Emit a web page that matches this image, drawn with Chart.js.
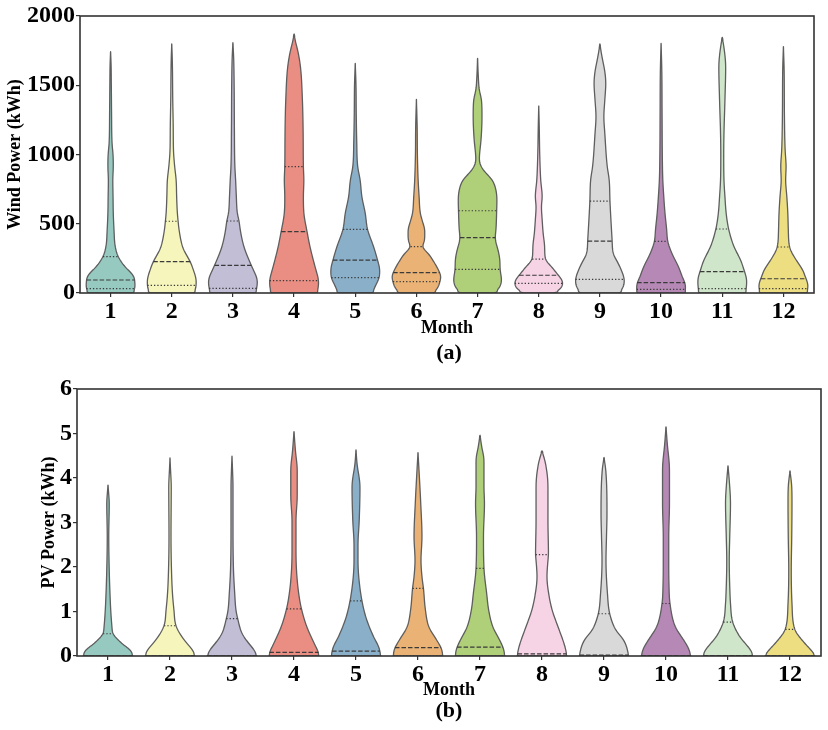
<!DOCTYPE html>
<html>
<head>
<meta charset="utf-8">
<script src="https://cdn.jsdelivr.net/npm/chart.js@4.4.1/dist/chart.umd.min.js"></script>
<style>
  html, body { margin: 0; padding: 0; background: #fff; }
  #page { position: relative; width: 828px; height: 730px; overflow: hidden; }
  canvas { position: absolute; left: 0; }
  .caption {
    position: absolute; left: 349px; width: 200px; height: 24px; line-height: 24px;
    text-align: center; font: bold 22px 'Liberation Serif', 'Times New Roman', serif; color: #000;
  }
</style>
</head>
<body>
<div id="page">
  <canvas id="windChart" width="828" height="340" style="top:0"></canvas>
  <div class="caption" style="top:339px">(a)</div>
  <canvas id="pvChart" width="828" height="336" style="top:365px"></canvas>
  <div class="caption" style="top:697px">(b)</div>
</div>
<script>
// --- data ---
const months = ['1', '2', '3', '4', '5', '6', '7', '8', '9', '10', '11', '12'];

// seaborn Set3, desaturated
const monthColors = ['#96cac1', '#f6f6bc', '#c1bed6', '#ea8e83', '#8aafc9', '#eab375',
                     '#afcf78', '#f6d3e5', '#d9d9d9', '#b588b6', '#cfe6ca', '#eddf81'];

// (a) wind power
const windTicks = [0, 500, 1000, 1500, 2000];
const windMax = [1742, 1798, 1807, 1870, 1658, 1398, 1694, 1350, 1798, 1803, 1846, 1779];
const windQ1 = [31, 55, 34, 89, 111, 82, 171, 70, 99, 26, 31, 31];
const windMedian = [94, 226, 200, 443, 238, 147, 400, 128, 375, 75, 154, 103];
const windQ3 = [262, 518, 520, 912, 460, 335, 594, 245, 664, 373, 462, 332];
// [value, relative half width] pairs, bottom to top
const windProfiles = [
  [[0, .9], [22, .98], [60, 1], [94, .98], [130, .93], [166, .71], [214, .48], [262, .31], [334, .19], [455, .14], [575, .11], [695, .1], [816, .09], [912, .11], [1000, .1], [1080, .06], [1300, .04], [1500, .03], [1650, .02]],
  [[0, .9], [30, .98], [94, 1], [142, .93], [235, .73], [290, .55], [334, .44], [455, .3], [518, .26], [575, .23], [695, .2], [816, .18], [912, .12], [1032, .07], [1200, .06], [1400, .04], [1600, .03], [1700, .02]],
  [[0, .92], [40, .98], [94, 1], [130, .93], [200, .75], [334, .45], [455, .3], [520, .25], [575, .18], [695, .14], [816, .11], [912, .08], [1200, .06], [1500, .05], [1700, .03]],
  [[0, .93], [40, .99], [94, 1], [130, .95], [214, .82], [334, .65], [443, .53], [575, .4], [695, .38], [816, .4], [912, .38], [1153, .37], [1393, .34], [1634, .26], [1750, .15], [1820, .05]],
  [[0, .7], [58, .84], [111, .98], [166, 1], [238, .91], [334, .75], [460, .5], [575, .41], [695, .27], [816, .2], [912, .1], [1100, .06], [1300, .04], [1500, .03]],
  [[0, .7], [40, .88], [82, .96], [118, 1], [147, .95], [214, .75], [286, .48], [335, .24], [360, .3], [400, .34], [455, .34], [503, .27], [575, .16], [695, .11], [816, .07], [1000, .04], [1200, .03]],
  [[0, .7], [40, .9], [94, .98], [171, .92], [238, .91], [300, .85], [400, .72], [455, .75], [594, .78], [671, .79], [744, .75], [816, .6], [864, .35], [910, .15], [960, .07], [1000, .08], [1105, .14], [1273, .18], [1393, .16], [1466, .07], [1560, .03]],
  [[0, .61], [22, .84], [70, .98], [94, .95], [128, .8], [190, .52], [245, .27], [334, .24], [431, .18], [527, .14], [623, .11], [695, .14], [816, .08], [1000, .04], [1200, .02]],
  [[0, .79], [40, .95], [99, 1], [130, .95], [214, .75], [286, .54], [375, .5], [527, .45], [664, .41], [816, .38], [912, .3], [1153, .2], [1273, .16], [1393, .2], [1514, .24], [1600, .2], [1682, .11], [1750, .04]],
  [[0, .98], [40, 1], [75, .98], [94, .92], [190, .71], [286, .44], [373, .27], [455, .23], [575, .16], [695, .11], [816, .07], [1000, .05], [1300, .04], [1600, .03]],
  [[0, .95], [31, .98], [94, 1], [154, .91], [238, .75], [334, .48], [462, .26], [575, .16], [695, .11], [816, .07], [1000, .06], [1153, .07], [1393, .11], [1634, .14], [1760, .08]],
  [[0, .95], [31, 1], [70, 1], [103, .92], [166, .79], [238, .52], [332, .25], [455, .2], [575, .18], [695, .14], [816, .09], [912, .11], [1032, .07], [1300, .04], [1600, .03]]
];

// (b) PV power
const pvTicks = [0, 1, 2, 3, 4, 5, 6];
const pvMax = [3.84, 4.45, 4.49, 5.04, 4.63, 4.57, 4.96, 4.61, 4.46, 5.15, 4.27, 4.16];
const pvQ1 = [0, 0, 0, 0, 0, 0, 0, 0, 0, 0, 0, 0];
const pvMedian = [0, 0, 0, 0.08, 0.11, 0.19, 0.2, 0.05, 0.02, 0.01, 0.01, 0];
const pvQ3 = [0.5, 0.68, 0.84, 1.06, 1.24, 1.52, 1.97, 2.28, 0.95, 1.18, 0.76, 0.6];
const pvProfiles = [
  [[0, 1], [0.06, .97], [0.13, .91], [0.24, .65], [0.36, .41], [0.5, .2], [0.65, .16], [1.03, .11], [1.4, .08], [1.93, .05], [2.68, .03], [3.43, .05], [3.7, .02]],
  [[0, 1], [0.06, .97], [0.13, .92], [0.24, .75], [0.43, .48], [0.68, .24], [1.03, .16], [1.4, .1], [1.93, .06], [2.68, .04], [3.8, .05], [4.2, .02]],
  [[0, 1], [0.13, .9], [0.28, .68], [0.5, .41], [0.84, .23], [1.03, .16], [1.4, .11], [1.93, .06], [3.0, .04], [3.8, .04], [4.2, .02]],
  [[0, 1], [0.05, 1], [0.16, .92], [0.36, .75], [0.65, .52], [1.06, .3], [1.4, .19], [1.93, .1], [2.4, .08], [3.05, .08], [3.6, .13], [4.18, .13], [4.6, .06]],
  [[0, 1], [0.2, .92], [0.43, .71], [0.85, .41], [1.24, .24], [1.78, .11], [2.15, .08], [2.5, .08], [3.05, .13], [3.8, .16], [4.33, .04]],
  [[0, 1], [0.16, .95], [0.36, .75], [0.65, .44], [1.03, .3], [1.52, .22], [1.78, .16], [2.15, .12], [2.68, .16], [3.43, .11], [4.18, .04]],
  [[0, 1], [0.16, .95], [0.36, .79], [0.65, .52], [1.03, .35], [1.4, .27], [1.97, .16], [2.68, .14], [3.43, .18], [3.8, .16], [4.4, .16], [4.7, .07]],
  [[0, 1], [0.16, .95], [0.36, .84], [0.65, .65], [1.03, .41], [1.4, .27], [1.78, .2], [2.15, .24], [2.28, .26], [3.05, .24], [3.8, .24], [4.33, .14]],
  [[0, .99], [0.13, .95], [0.36, .79], [0.58, .48], [0.95, .23], [1.4, .14], [2.15, .08], [2.68, .1], [3.2, .12], [4.18, .07]],
  [[0, 1], [0.16, .92], [0.36, .71], [0.65, .38], [1.18, .16], [1.6, .12], [2.15, .11], [2.68, .11], [3.43, .14], [4.18, .14], [4.78, .05]],
  [[0, .99], [0.08, .97], [0.2, .82], [0.43, .48], [0.76, .19], [1.18, .1], [1.4, .08], [2.15, .05], [2.68, .07], [3.43, .1], [3.95, .05]],
  [[0, 1], [0.05, .97], [0.15, .82], [0.36, .48], [0.6, .19], [1.18, .08], [1.93, .05], [2.68, .07], [3.43, .08], [3.8, .07]]
];

const FONT = "'Liberation Serif', 'Times New Roman', serif";

// monotone cubic interpolation of a [value, width] profile
function monotoneInterp(pts) {
  const n = pts.length;
  const xs = pts.map(p => p[0]), ys = pts.map(p => p[1]);
  const d = [], m = new Array(n);
  for (let k = 0; k < n - 1; k++) d.push((ys[k + 1] - ys[k]) / (xs[k + 1] - xs[k]));
  m[0] = d[0]; m[n - 1] = d[n - 2];
  for (let k = 1; k < n - 1; k++) m[k] = d[k - 1] * d[k] <= 0 ? 0 : (d[k - 1] + d[k]) / 2;
  for (let k = 0; k < n - 1; k++) {
    if (d[k] === 0) { m[k] = 0; m[k + 1] = 0; continue; }
    const a = m[k] / d[k], b = m[k + 1] / d[k], s = a * a + b * b;
    if (s > 9) { const t = 3 / Math.sqrt(s); m[k] = t * a * d[k]; m[k + 1] = t * b * d[k]; }
  }
  return v => {
    let k = 0;
    while (k < n - 2 && v > xs[k + 1]) k++;
    const h = xs[k + 1] - xs[k];
    const t = Math.min(1, Math.max(0, (v - xs[k]) / h));
    const t2 = t * t, t3 = t2 * t;
    return (2 * t3 - 3 * t2 + 1) * ys[k] + (t3 - 2 * t2 + t) * h * m[k] +
           (-2 * t3 + 3 * t2) * ys[k + 1] + (t3 - t2) * h * m[k + 1];
  };
}

// light moving-average so the outline reads like a kde curve
function smooth(arr, r) {
  return arr.map((_, i) => {
    if (i === 0 || i === arr.length - 1) return arr[i];
    let s = 0, c = 0;
    for (let j = Math.max(0, i - r); j <= Math.min(arr.length - 1, i + r); j++) { s += arr[j]; c++; }
    return s / c;
  });
}

// draws the violins through the chart's own scales, plus the axes box
const makeViolinPlugin = (set) => ({
  id: 'violins',
  beforeDatasetsDraw(chart) {
    const { ctx, chartArea: area, scales: { x, y } } = chart;
    const half = 0.4 * (x.getPixelForValue(1) - x.getPixelForValue(0));
    ctx.save();
    ctx.beginPath();
    ctx.rect(area.left, area.top, area.width, area.height);
    ctx.clip();
    set.max.forEach((top, i) => {
      const cx = x.getPixelForValue(i);
      const f = monotoneInterp(set.profiles[i].concat([[top, 0]]));
      const N = 200, vals = [], widths = [];
      for (let k = 0; k <= N; k++) {
        vals.push(top * k / N);
        widths.push(Math.max(0, f(top * k / N)));
      }
      const ws = smooth(widths, 3);
      const right = vals.map((v, k) => [cx + ws[k] * half, y.getPixelForValue(v)]);
      ctx.beginPath();
      ctx.moveTo(2 * cx - right[0][0], right[0][1]);
      right.forEach(p => ctx.lineTo(p[0], p[1]));
      for (let k = N; k >= 0; k--) ctx.lineTo(2 * cx - right[k][0], right[k][1]);
      ctx.closePath();
      ctx.fillStyle = monthColors[i];
      ctx.fill();
      ctx.lineWidth = 1.3;
      ctx.lineJoin = 'round';
      ctx.strokeStyle = '#5e5e5e';
      ctx.stroke();

      // inner quartile lines
      [[set.q1[i], [1.3, 2]], [set.median[i], [4.5, 2]], [set.q3[i], [1.3, 2]]].forEach(([q, dash]) => {
        const w = Math.max(0, f(q)) * half;
        const py = y.getPixelForValue(q);
        ctx.beginPath();
        ctx.setLineDash(dash);
        ctx.moveTo(cx - w, py);
        ctx.lineTo(cx + w, py);
        ctx.lineWidth = 1.2;
        ctx.strokeStyle = '#3a3a3a';
        ctx.stroke();
        ctx.setLineDash([]);
      });
    });
    ctx.restore();
  },
  afterDraw(chart) {
    const { ctx, chartArea: area } = chart;
    ctx.save();
    ctx.lineWidth = 1.6;
    ctx.strokeStyle = '#333';
    ctx.strokeRect(area.left, area.top, area.width, area.height);
    ctx.restore();
  }
});

const buildChart = (canvasId, set, opts) => new Chart(document.getElementById(canvasId), {
  type: 'bar',
  data: {
    labels: months,
    datasets: [{ data: set.median, backgroundColor: 'rgba(0,0,0,0)', borderWidth: 0 }]
  },
  options: {
    responsive: false,
    animation: false,
    events: [],
    layout: { padding: opts.padding },
    plugins: { legend: { display: false }, tooltip: { enabled: false } },
    scales: {
      x: {
        offset: true,
        grid: { offset: false, drawOnChartArea: false, drawTicks: true, tickLength: 4, color: '#333', lineWidth: 1.2 },
        border: { display: false },
        ticks: { color: '#000', padding: 0, maxRotation: 0, font: { family: FONT, size: 24, weight: 'bold' } },
        title: { display: true, text: 'Month', color: '#000', padding: { top: 0, bottom: opts.xTitlePad },
                 font: { family: FONT, size: 18, weight: 'bold' } },
        afterFit: s => { s.height = opts.xHeight; }
      },
      y: {
        min: 0,
        max: opts.ticks[opts.ticks.length - 1],
        afterBuildTicks: s => { s.ticks = opts.ticks.map(v => ({ value: v })); },
        grid: { drawOnChartArea: false, drawTicks: true, tickLength: 4, color: '#333', lineWidth: 1.2 },
        border: { display: false },
        ticks: { color: '#000', padding: 1, callback: v => String(v), font: { family: FONT, size: 24, weight: 'bold' } },
        title: { display: true, text: opts.yTitle, color: '#000', padding: { top: opts.yTitlePad, bottom: 0 },
                 font: { family: FONT, size: 18, weight: 'bold' } },
        afterFit: s => { s.width = opts.yWidth; }
      }
    }
  },
  plugins: [makeViolinPlugin(set)]
});

buildChart('windChart',
  { max: windMax, q1: windQ1, median: windMedian, q3: windQ3, profiles: windProfiles },
  { ticks: windTicks, yTitle: 'Wind Power (kWh)', padding: { top: 16, right: 14, left: 0, bottom: 0 },
    xHeight: 47, yWidth: 80, xTitlePad: 1, yTitlePad: 5 });

buildChart('pvChart',
  { max: pvMax, q1: pvQ1, median: pvMedian, q3: pvQ3, profiles: pvProfiles },
  { ticks: pvTicks, yTitle: 'PV Power (kWh)', padding: { top: 24, right: 7, left: 0, bottom: 0 },
    xHeight: 45, yWidth: 77, xTitlePad: 0, yTitlePad: 39 });
</script>
</body>
</html>
